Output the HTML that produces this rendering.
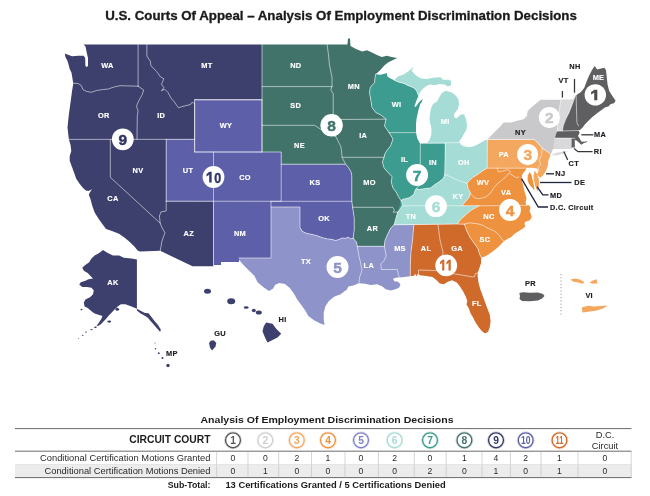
<!DOCTYPE html><html><head><meta charset="utf-8"><title>U.S. Courts Of Appeal</title><style>html,body{margin:0;padding:0;background:#fff}svg{display:block}text{font-family:"Liberation Sans",Arial,sans-serif}</style></head><body>
<svg width="650" height="496" viewBox="0 0 650 496">
<rect width="650" height="496" fill="#fff"/>
<text x="341" y="20" font-size="12.5" font-weight="700" fill="#1b1b1b" stroke="#1b1b1b" stroke-width="0.3" text-anchor="middle" textLength="471.6" lengthAdjust="spacingAndGlyphs">U.S. Courts Of Appeal – Analysis Of Employment Discrimination Decisions</text>
<g stroke-linejoin="round">
<path d="M87.5 44.4 L262.0 44.4 L262.0 99.8 L194.6 99.8 L194.6 139.2 L166.2 139.2 L166.2 201.2 L213.5 201.2 L213.5 266.2 L192.5 266.2 L160.2 250.8 L140.0 251.5 L137.6 250.6 L134.4 246.6 L129.5 241.8 L124.7 237.7 L119.0 233.7 L112.6 231.3 L106.1 228.9 L102.9 224.8 L98.9 219.2 L94.8 212.7 L92.4 206.3 L90.3 198.5 L88.8 195.0 L89.8 192.5 L92.0 189.3 L88.5 191.0 L85.8 190.6 L82.6 187.4 L79.4 183.4 L76.1 178.5 L74.5 173.7 L72.1 167.3 L69.7 160.8 L69.7 156.0 L71.3 151.1 L70.5 144.7 L68.9 139.5 L67.5 127.5 L68.8 115.0 L71.2 97.5 L72.1 90.8 L73.3 83.2 L72.7 79.9 L72.1 76.3 L71.5 72.7 L69.7 69.0 L68.5 64.2 L67.3 60.6 L65.4 56.9 L64.8 53.5 L67.3 54.5 L72.1 56.3 L78.1 55.7 L83.6 55.7 L85.2 58.1 L85.4 66.0 L86.6 67.0 L88.0 66.0 L88.0 58.0 L86.6 52.0 L85.5 46.5 L83.6 44.4Z" fill="#3d3f6c"/>
<path d="M194.6 99.8 L262.0 99.8 L262.0 152.0 L281.2 152.0 L281.2 164.2 L345.3 164.2 L348.5 167.7 L351.0 171.8 L351.8 175.8 L351.8 201.3 L352.6 207.3 L354.2 217.7 L354.2 230.0 L353.2 238.0 L351.0 239.0 L348.4 237.3 L345.2 238.3 L342.0 238.0 L339.0 239.5 L335.5 240.5 L331.5 239.3 L327.4 238.9 L323.5 238.0 L319.4 236.5 L314.5 235.0 L309.7 234.0 L305.0 232.8 L302.0 231.0 L300.0 227.5 L300.0 207.0 L271.0 207.0 L271.0 258.0 L239.0 258.0 L239.0 262.0 L221.0 262.0 L221.0 265.0 L213.5 265.0 L213.5 201.2 L166.2 201.2 L166.2 139.2 L194.6 139.2Z" fill="#5d5fa8"/>
<path d="M262.0 44.4 L347.4 44.4 L348.0 38.5 L350.0 38.5 L350.5 46.0 L356.0 48.9 L362.2 51.4 L367.0 50.2 L372.0 52.6 L377.0 55.0 L381.8 56.9 L386.8 55.7 L391.7 56.9 L397.2 57.9 L393.0 60.0 L388.0 62.5 L384.3 65.5 L380.6 69.8 L375.7 74.2 L375.0 77.8 L374.5 82.8 L372.0 85.2 L370.2 87.7 L369.5 92.6 L370.8 100.0 L372.0 107.5 L375.8 112.5 L380.8 115.0 L384.0 117.5 L386.0 119.2 L384.5 126.0 L389.0 132.5 L393.0 139.0 L390.5 146.0 L386.5 151.0 L384.8 154.0 L384.0 157.3 L382.4 162.1 L384.0 167.7 L388.0 172.6 L392.1 176.6 L391.3 182.3 L392.9 187.9 L396.1 191.9 L398.5 196.8 L401.0 200.5 L402.6 204.8 L400.2 208.9 L397.7 212.1 L396.1 217.7 L394.5 223.4 L394.0 224.8 L390.5 228.5 L387.4 234.7 L384.9 240.8 L384.3 246.3 L357.3 246.3 L356.5 242.0 L355.0 240.5 L353.2 238.0 L354.2 230.0 L354.2 217.7 L352.6 207.3 L351.8 201.3 L351.8 175.8 L351.0 171.8 L348.5 167.7 L345.3 164.2 L281.2 164.2 L281.2 152.0 L262.0 152.0Z" fill="#41736b"/>
<path d="M271.0 207.0 L300.0 207.0 L300.0 227.5 L302.0 231.0 L305.0 232.8 L309.7 234.0 L314.5 235.0 L319.4 236.5 L323.5 238.0 L327.4 238.9 L331.5 239.3 L335.5 240.5 L339.0 239.5 L342.0 238.0 L345.2 238.3 L348.4 237.3 L351.0 239.0 L353.2 238.0 L355.0 240.5 L356.5 242.0 L357.3 246.3 L384.3 246.3 L384.9 240.8 L387.4 234.7 L390.5 228.5 L394.0 224.8 L413.8 224.8 L412.6 239.6 L410.9 252.3 L410.3 264.6 L410.3 276.3 L404.2 276.9 L399.8 277.5 L396.8 277.5 L393.0 278.8 L394.3 281.2 L398.0 281.8 L400.5 284.3 L399.2 287.4 L395.5 289.2 L390.6 290.5 L385.7 289.2 L382.0 286.2 L377.1 284.3 L370.9 284.9 L364.8 283.7 L358.9 283.2 L353.2 285.6 L348.4 286.5 L346.8 289.7 L343.5 292.0 L340.3 294.5 L335.0 296.3 L331.8 298.4 L328.5 301.6 L325.3 306.5 L323.7 312.9 L323.7 319.4 L324.5 325.0 L320.5 323.4 L314.0 320.2 L308.4 316.1 L305.2 310.5 L301.1 304.8 L297.1 299.2 L293.9 293.5 L289.8 287.9 L285.0 283.9 L279.4 283.1 L275.3 284.7 L272.9 288.7 L268.9 291.1 L263.2 287.1 L257.6 282.3 L254.4 275.8 L248.7 270.2 L243.0 264.5 L239.0 259.7 L239.0 258.0 L271.0 258.0Z" fill="#8e93c9"/>
<path d="M375.7 74.2 L380.6 74.8 L385.5 73.5 L386.8 72.9 L387.4 76.6 L390.5 78.5 L394.2 80.3 L399.0 82.2 L404.0 83.4 L407.4 85.2 L413.5 87.7 L416.6 90.8 L418.5 95.7 L416.5 100.5 L414.3 106.5 L415.8 106.8 L419.0 102.2 L422.8 98.8 L421.5 102.5 L420.3 103.7 L418.5 109.8 L416.6 118.5 L416.0 124.6 L416.0 132.6 L417.2 138.2 L419.7 142.8 L420.3 143.3 L426.5 143.3 L445.3 143.3 L444.8 174.2 L443.5 178.2 L439.5 181.5 L434.7 184.7 L430.6 187.9 L424.2 188.7 L419.4 189.5 L416.1 188.7 L415.3 190.3 L413.7 194.4 L409.7 197.6 L406.5 198.4 L403.2 199.2 L401.0 200.5 L397.7 212.1 L400.2 208.9 L402.6 204.8 L401.0 200.5 L398.5 196.8 L396.1 191.9 L392.9 187.9 L391.3 182.3 L392.1 176.6 L388.0 172.6 L384.0 167.7 L382.4 162.1 L384.0 157.3 L384.8 154.0 L386.5 151.0 L390.5 146.0 L393.0 139.0 L389.0 132.5 L384.5 126.0 L386.0 119.2 L384.0 117.5 L380.8 115.0 L375.8 112.5 L372.0 107.5 L370.8 100.0 L369.5 92.6 L370.2 87.7 L372.0 85.2 L374.5 82.8 L375.0 77.8 L375.7 74.2Z" fill="#3b9c8f"/>
<path d="M394.2 80.3 L397.8 76.6 L404.0 74.2 L408.9 71.1 L413.5 66.8 L411.7 71.0 L416.0 75.4 L420.9 78.5 L427.0 79.0 L433.2 77.8 L440.6 77.2 L443.0 79.7 L449.2 79.7 L451.0 80.9 L451.0 85.2 L448.0 86.5 L444.3 84.6 L439.4 84.0 L434.5 85.2 L429.5 84.6 L425.8 86.5 L422.8 88.9 L420.3 92.0 L418.5 95.7 L416.6 90.8 L413.5 87.7 L407.4 85.2 L404.0 83.4 L399.0 82.2Z" fill="#a5dcd5"/>
<path d="M445.5 90.8 L451.7 92.6 L456.0 95.7 L458.5 99.4 L459.0 104.3 L457.8 109.2 L454.2 113.5 L454.2 117.2 L456.6 118.5 L460.3 114.8 L464.0 114.2 L465.8 118.5 L467.0 124.6 L466.5 129.5 L464.0 133.8 L461.5 138.2 L459.0 141.8 L460.5 144.3 L463.5 146.3 L469.5 147.3 L474.5 146.0 L479.5 143.6 L484.5 140.5 L487.4 139.4 L487.2 168.0 L482.4 171.0 L477.6 174.5 L472.7 177.5 L469.5 180.5 L467.0 183.2 L468.0 188.4 L470.5 192.8 L469.0 197.5 L466.0 201.0 L463.0 204.5 L462.0 205.8 L479.0 205.8 L476.0 207.5 L471.6 210.0 L467.6 213.2 L461.1 218.9 L457.1 224.0 L394.0 224.8 L394.5 223.4 L396.1 217.7 L397.7 212.1 L400.2 208.9 L402.6 204.8 L401.0 200.5 L403.2 199.2 L406.5 198.4 L409.7 197.6 L413.7 194.4 L415.3 190.3 L416.1 188.7 L419.4 189.5 L424.2 188.7 L430.6 187.9 L434.7 184.7 L439.5 181.5 L443.5 178.2 L444.8 174.2 L445.3 143.3 L426.5 143.3 L429.5 140.0 L431.4 134.5 L431.4 128.3 L430.2 123.4 L429.5 118.5 L430.2 112.3 L431.4 107.4 L433.2 103.7 L434.5 103.0 L436.9 101.8 L439.4 96.9 L441.8 93.2 L445.5 90.8Z" fill="#a5dcd5"/>
<path d="M413.8 224.8 L457.1 224.0 L464.4 224.2 L466.8 231.0 L470.0 237.4 L474.0 243.0 L478.0 248.7 L479.7 254.4 L481.3 257.6 L481.0 263.2 L479.4 268.1 L477.7 272.9 L477.7 276.9 L478.5 282.6 L480.2 289.0 L482.6 295.5 L485.0 301.9 L487.4 308.4 L489.8 314.8 L490.6 321.3 L489.8 326.9 L488.2 331.8 L485.0 333.4 L481.8 331.0 L478.5 326.9 L475.3 322.1 L472.9 317.3 L470.5 313.2 L468.9 308.4 L466.5 304.4 L467.3 301.1 L465.6 296.3 L463.2 291.5 L460.0 286.6 L456.8 282.6 L451.9 280.2 L447.9 281.8 L443.9 284.2 L439.8 283.4 L436.6 280.2 L432.6 276.9 L426.1 276.1 L419.7 275.3 L418.3 273.2 L416.5 276.3 L415.2 273.8 L414.0 275.7 L410.3 276.3 L410.3 264.6 L410.9 252.3 L412.6 239.6 L413.8 224.8Z" fill="#d06a2b"/>
<path d="M487.0 168.0 L527.0 168.0 L524.5 171.5 L522.0 175.0 L521.6 178.7 L523.2 186.0 L524.8 192.4 L526.5 198.0 L525.6 202.9 L526.5 205.3 L529.2 205.3 L530.5 208.0 L529.5 211.0 L531.3 215.0 L531.7 217.4 L529.5 220.5 L525.3 221.7 L524.5 223.7 L525.4 226.6 L522.5 228.8 L518.2 231.4 L514.5 233.8 L511.4 236.9 L507.7 238.8 L503.8 241.2 L502.0 243.2 L498.0 247.2 L494.0 250.5 L489.5 253.8 L485.0 256.5 L481.3 257.6 L479.7 254.4 L478.0 248.7 L474.0 243.0 L470.0 237.4 L466.8 231.0 L464.4 224.2 L457.1 224.0 L461.1 218.9 L467.6 213.2 L471.6 210.0 L476.0 207.5 L479.0 205.8 L462.0 205.8 L463.0 204.5 L466.0 201.0 L469.0 197.5 L470.5 192.8 L468.0 188.4 L467.0 183.2 L469.5 180.5 L472.7 177.5 L477.6 174.5 L482.4 171.0 L487.2 168.0Z" fill="#ef9240"/>
<path d="M487.3 139.4 L534.2 139.4 L538.2 143.4 L542.3 148.2 L547.1 151.5 L550.8 154.6 L548.5 160.0 L547.7 166.0 L546.0 170.8 L543.0 175.4 L540.0 177.7 L537.0 174.6 L538.5 171.0 L537.0 168.5 L533.8 168.0 L487.0 168.0Z" fill="#f3a75f"/>
<path d="M529.7 172.0 L531.5 175.0 L532.9 181.0 L534.0 186.0 L534.5 190.8 L532.0 187.5 L529.0 184.0 L527.5 180.0 L527.8 175.5Z" fill="#ef9240"/>
<path d="M534.5 170.5 L537.0 174.0 L538.8 179.0 L539.2 184.0 L537.7 191.4 L535.5 187.0 L534.0 181.0 L533.5 176.0Z" fill="#f3a75f"/>
<path d="M487.4 139.4 L491.5 135.3 L494.7 132.1 L500.3 126.5 L503.5 122.4 L510.8 122.4 L517.3 120.8 L523.7 119.2 L526.9 116.0 L527.7 111.1 L531.8 107.1 L536.6 103.1 L540.6 99.8 L573.0 99.8 L575.3 96.0 L572.1 104.8 L568.9 112.9 L565.6 119.4 L563.2 125.8 L562.4 131.0 L557.1 131.1 L554.7 138.0 L571.6 138.0 L571.6 148.5 L553.0 149.0 L550.8 154.6 L547.1 151.5 L542.3 148.2 L538.2 143.4 L534.2 139.4Z" fill="#c9c9cb"/>
<path d="M560.8 99.8 L573.0 99.8 L575.3 96.0 L572.1 104.8 L568.9 112.9 L565.6 119.4 L563.2 125.8 L562.4 131.0 L557.1 131.1 L558.5 115.0Z" fill="#d9d9db"/>
<path d="M554.7 138.0 L571.6 138.0 L571.6 148.5 L553.0 149.0Z" fill="#d9d9db"/>
<path d="M551.0 155.0 L556.0 152.8 L565.0 151.5 L568.0 151.0 L565.0 153.0 L557.0 155.4Z" fill="#dcdcde"/>
<path d="M575.3 96.0 L576.1 95.2 L581.0 91.9 L584.2 87.9 L586.6 81.5 L589.0 75.8 L592.3 69.4 L594.7 66.1 L597.1 69.4 L601.1 68.5 L604.4 67.7 L606.0 70.2 L606.8 77.4 L607.6 84.7 L609.2 91.1 L612.4 96.0 L615.6 100.8 L614.0 103.2 L610.8 104.0 L608.4 106.5 L605.2 107.3 L601.9 109.7 L598.7 112.1 L595.5 114.5 L591.5 117.7 L588.2 121.0 L585.0 124.2 L582.6 127.4 L580.5 129.5 L578.5 130.5 L579.7 132.7 L578.0 136.0 L579.7 138.4 L581.3 141.6 L584.0 141.8 L587.0 141.2 L587.3 142.0 L584.0 142.9 L581.3 144.8 L579.7 143.2 L576.5 140.5 L574.8 140.0 L574.8 147.5 L571.6 147.5 L571.6 138.0 L554.7 138.0 L557.1 131.1 L562.4 131.0 L563.2 125.8 L565.6 119.4 L568.9 112.9 L572.1 104.8 L575.3 96.0Z" fill="#5f5f62"/>
<path d="M103.0 250.0 L107.7 253.0 L113.0 255.4 L119.2 255.4 L123.8 257.7 L131.5 258.5 L136.9 259.4 L136.9 308.8 L131.5 306.5 L125.4 304.2 L120.8 304.2 L117.7 306.5 L114.6 309.6 L111.5 312.7 L108.5 315.8 L106.2 318.8 L103.0 322.0 L100.8 324.2 L98.5 325.8 L96.5 326.0 L99.0 322.5 L101.5 318.5 L102.5 316.0 L99.2 315.0 L94.6 313.5 L91.5 311.2 L87.7 308.0 L84.6 306.5 L83.8 302.7 L85.4 299.6 L90.0 297.3 L93.0 294.2 L93.8 290.4 L91.5 287.7 L87.0 287.0 L82.3 287.0 L79.2 284.6 L80.8 282.3 L85.4 280.8 L88.5 279.2 L93.0 278.5 L90.8 276.2 L87.7 273.0 L83.8 270.8 L82.3 267.7 L84.6 265.4 L89.2 262.3 L91.5 258.5 L94.6 255.4 L99.2 253.0Z" fill="#3d3f6c"/>
<path d="M136.9 308.8 L141.0 311.0 L145.0 313.0 L148.5 313.3 L151.5 317.0 L154.5 321.0 L158.0 325.0 L160.8 329.5 L160.2 332.0 L157.8 329.3 L154.3 325.3 L150.8 321.3 L147.8 317.8 L144.3 315.5 L140.3 313.2 L136.9 310.5Z" fill="#3d3f6c"/>
<path d="M266.2 322.5 L272.5 323.8 L276.2 328.8 L281.2 333.8 L277.5 337.5 L272.5 340.0 L267.5 342.5 L265.0 337.5 L262.5 331.2 L263.8 326.2Z" fill="#3d3f6c"/>
<path d="M209.0 343.0 L211.0 340.5 L214.0 340.5 L216.3 343.0 L215.5 346.5 L212.0 350.5 L210.0 347.5Z" fill="#3d3f6c"/>
<path d="M519.3 293.0 L523.0 292.3 L530.0 292.8 L538.0 292.6 L543.0 294.0 L544.5 296.0 L542.0 298.5 L538.0 300.5 L530.0 301.2 L522.0 301.0 L519.5 299.0 L520.0 296.0Z" fill="#5f5f62"/>
<path d="M570.5 279.5 L575.0 278.6 L580.0 279.5 L584.3 282.0 L583.0 283.8 L578.0 282.5 L573.0 281.5Z" fill="#f3a75f"/>
<path d="M589.3 282.5 L593.0 280.5 L596.5 279.3 L597.5 283.5 L593.0 283.8Z" fill="#f3a75f"/>
<path d="M581.8 307.5 L588.0 305.8 L594.0 306.5 L600.0 306.0 L607.5 305.5 L603.0 308.5 L597.0 310.5 L590.0 311.5 L582.5 312.5Z" fill="#f3a75f"/>
<ellipse cx="82.7" cy="335.3" rx="0.9" ry="0.5" fill="#3d3f6c"/>
<ellipse cx="78.5" cy="338.3" rx="0.7" ry="0.4" fill="#3d3f6c"/>
<ellipse cx="95.4" cy="327.3" rx="1.4" ry="0.8" fill="#3d3f6c"/>
<ellipse cx="91.5" cy="329.6" rx="1.2" ry="0.7" fill="#3d3f6c"/>
<ellipse cx="86.0" cy="332.0" rx="1.0" ry="0.6" fill="#3d3f6c"/>
<ellipse cx="109.2" cy="321.6" rx="2.0" ry="1.1" fill="#3d3f6c"/>
<ellipse cx="117.3" cy="309.3" rx="1.8" ry="1.5" fill="#3d3f6c"/>
<ellipse cx="81.5" cy="309.6" rx="1.0" ry="0.8" fill="#3d3f6c"/>
<ellipse cx="207.5" cy="291.2" rx="3.5" ry="2.5" fill="#3d3f6c"/>
<ellipse cx="231.2" cy="301.2" rx="4.0" ry="3.0" fill="#3d3f6c"/>
<ellipse cx="246.2" cy="307.5" rx="2.5" ry="1.2" fill="#3d3f6c"/>
<ellipse cx="253.8" cy="310.5" rx="2.0" ry="1.8" fill="#3d3f6c"/>
<ellipse cx="258.8" cy="312.5" rx="3.0" ry="2.0" fill="#3d3f6c"/>
<circle cx="155.0" cy="343.0" r="0.5" fill="#3d3f6c"/>
<circle cx="155.5" cy="348.8" r="0.7" fill="#3d3f6c"/>
<circle cx="158.8" cy="353.2" r="0.9" fill="#3d3f6c"/>
<circle cx="162.5" cy="358.0" r="1.0" fill="#3d3f6c"/>
<circle cx="168.0" cy="365.5" r="1.7" fill="#3d3f6c"/>
</g>
<g fill="none" stroke="#fff" stroke-opacity="0.55" stroke-width="1" stroke-linejoin="round" stroke-linecap="round">
<path d="M73.3 83.2 L78.1 83.5 L81.2 85.4 L83.0 89.6 L86.6 91.4 L91.5 92.3 L96.3 90.6 L102.3 89.6 L108.4 89.0 L113.2 87.2 L120.0 85.7 L138.1 86.2"/>
<path d="M138.1 86.2 L143.7 90.0 L142.1 94.8 L138.9 100.5 L136.5 106.1 L138.1 111.0 L137.3 116.0 L137.0 139.2"/>
<path d="M146.9 44.4 L146.9 56.1 L150.2 61.0 L151.0 65.8 L156.6 71.5 L160.6 77.1 L163.9 78.7 L161.5 84.4 L163.9 87.6 L161.5 90.8 L164.7 89.2 L167.9 92.4 L171.1 98.1 L174.4 102.1 L178.4 107.7 L184.0 106.1 L190.5 104.5 L192.1 102.1 L194.5 103.7"/>
<path d="M110.3 139.5 L110.3 177.3 L160.2 223.2"/>
<path d="M166.2 201.2 L166.2 211.0 L161.0 211.9 L159.4 216.0 L160.2 223.2 L161.8 227.3 L165.0 232.9 L163.4 236.9 L161.8 241.8 L161.0 246.6 L160.2 250.8"/>
<path d="M138.1 44.4 L138.1 86.2"/>
<path d="M68.9 139.4 L194.6 139.3"/>
<path d="M166.2 139.2 L166.2 201.2"/>
<path d="M166.2 201.2 L281.2 201.3"/>
<path d="M213.5 152.0 L213.5 266.2"/>
<path d="M262.0 44.4 L262.0 152.0"/>
<path d="M194.6 99.8 L262.0 99.8"/>
<path d="M194.6 103.8 L194.6 152.0 L281.2 152.0 L281.2 201.3"/>
<path d="M281.2 164.2 L345.3 164.2"/>
<path d="M271.0 201.3 L351.8 201.3"/>
<path d="M271.0 201.3 L271.0 258.0 L239.0 258.0"/>
<path d="M271.0 207.0 L300.0 207.0 L300.0 227.5 L302.0 231.0 L305.0 232.8 L309.7 234.0 L314.5 235.0 L319.4 236.5 L323.5 238.0 L327.4 238.9 L331.5 239.3 L335.5 240.5 L339.0 239.5 L342.0 238.0 L345.2 238.3 L348.4 237.3 L351.0 239.0 L353.2 238.0 L355.0 240.5 L356.5 242.0 L357.3 246.3"/>
<path d="M262.0 86.6 L332.0 86.6"/>
<path d="M262.0 125.3 L314.5 125.3 L319.8 128.7 L324.5 131.2 L329.5 133.8 L336.0 136.8 L338.4 141.6 L340.8 146.5 L341.5 151.0 L342.1 157.3 L345.3 163.7 L348.5 167.7 L351.0 171.8 L351.8 175.8 L351.8 201.3 L352.6 207.3 L354.2 217.7 L354.2 230.0 L353.2 238.0"/>
<path d="M327.0 44.4 L328.2 52.5 L329.5 65.0 L332.0 77.5 L332.0 86.2"/>
<path d="M332.0 86.2 L330.8 90.0 L333.2 93.8 L333.2 118.8 L334.5 125.0 L335.8 136.2"/>
<path d="M333.2 119.5 L386.0 119.2"/>
<path d="M342.1 157.3 L384.0 157.3"/>
<path d="M352.6 207.3 L392.9 207.3 L394.5 210.5 L392.9 212.1 L397.7 212.1"/>
<path d="M357.3 246.3 L384.3 246.3"/>
<path d="M357.3 246.3 L358.9 255.8 L360.5 262.3 L362.0 270.3 L359.7 276.8 L358.9 283.2"/>
<path d="M375.7 74.2 L375.0 77.8 L374.5 82.8 L372.0 85.2 L370.2 87.7 L369.5 92.6 L370.8 100.0 L372.0 107.5 L375.8 112.5 L380.8 115.0 L384.0 117.5 L386.0 119.2 L384.5 126.0 L389.0 132.5 L393.0 139.0 L390.5 146.0 L386.5 151.0 L384.8 154.0 L384.0 157.3 L382.4 162.1 L384.0 167.7 L388.0 172.6 L392.1 176.6 L391.3 182.3 L392.9 187.9 L396.1 191.9 L398.5 196.8 L401.0 200.5 L402.6 204.8 L400.2 208.9 L397.7 212.1 L396.1 217.7 L394.5 223.4 L394.0 224.8 L390.5 228.5 L387.4 234.7 L384.9 240.8 L384.3 246.3 L386.3 256.0 L383.8 260.9 L380.8 264.0 L381.4 269.5 L397.4 269.5 L398.6 275.7 L399.8 277.5"/>
<path d="M394.0 224.8 L457.1 224.0 L464.4 224.2"/>
<path d="M413.8 224.8 L412.6 239.6 L410.9 252.3 L410.3 264.6 L410.3 276.3"/>
<path d="M389.0 132.6 L416.0 132.6"/>
<path d="M394.2 80.3 L399.0 82.2 L404.0 83.4 L407.4 85.2 L413.5 87.7 L416.6 90.8 L418.5 95.7"/>
<path d="M420.3 143.3 L420.2 182.0 L419.4 185.5 L416.1 188.7"/>
<path d="M420.3 143.3 L459.0 142.6"/>
<path d="M445.3 143.3 L444.8 174.2"/>
<path d="M444.8 174.2 L443.5 178.2 L439.5 181.5 L434.7 184.7 L430.6 187.9 L424.2 188.7 L419.4 189.5 L416.1 188.7 L415.3 190.3 L413.7 194.4 L409.7 197.6 L406.5 198.4 L403.2 199.2 L401.0 200.5"/>
<path d="M444.8 174.2 L448.4 175.8 L454.8 179.0 L461.3 181.5 L467.0 183.2"/>
<path d="M467.0 183.2 L469.5 180.5 L472.7 177.5 L477.6 174.5 L482.4 171.0 L487.2 168.0"/>
<path d="M467.0 183.2 L468.0 188.4 L470.5 192.8 L469.0 197.5 L466.0 201.0 L463.0 204.5 L462.0 205.8"/>
<path d="M402.8 205.8 L479.0 205.8"/>
<path d="M479.0 205.8 L476.0 207.5 L471.6 210.0 L467.6 213.2 L461.1 218.9 L457.1 224.0"/>
<path d="M464.4 224.2 L466.8 231.0 L470.0 237.4 L474.0 243.0 L478.0 248.7 L479.7 254.4 L481.3 257.6"/>
<path d="M464.4 224.2 L469.2 222.9 L477.3 223.7 L483.7 225.6 L488.0 228.3 L494.0 230.8 L498.8 234.6 L501.8 239.0 L503.8 241.2"/>
<path d="M470.5 193.5 L474.4 197.9 L479.2 198.7 L485.6 197.1 L490.5 193.1 L493.7 188.2 L496.9 184.2 L501.8 180.2 L506.6 176.1 L509.0 172.9 L512.3 175.3 L516.3 177.7 L518.7 176.9"/>
<path d="M479.0 205.8 L526.5 205.4"/>
<path d="M487.3 139.4 L487.2 168.2 L534.0 168.2"/>
<path d="M497.0 168.0 L498.5 172.0 L503.0 171.0 L507.7 169.6 L510.8 172.0"/>
<path d="M438.0 224.8 L440.0 240.0 L443.0 252.0 L442.5 262.0 L443.0 270.8"/>
<path d="M418.5 273.0 L418.5 270.0 L443.0 270.8 L453.5 273.7 L463.2 275.3 L472.1 276.9 L474.5 276.9 L475.3 273.7 L477.7 272.9"/>
<path d="M487.4 139.4 L534.2 139.4"/>
<path d="M534.2 139.4 L538.2 143.4 L542.3 148.2 L547.1 151.5 L550.8 154.6"/>
<path d="M542.3 148.2 L541.5 155.4 L539.2 160.0 L540.8 164.6 L537.7 167.7 L539.2 170.8"/>
<path d="M560.8 99.8 L558.5 115.0 L557.1 131.1"/>
<path d="M575.3 96.0 L572.1 104.8 L568.9 112.9 L565.6 119.4 L563.2 125.8 L562.4 131.0"/>
<path d="M576.1 95.2 L576.9 122.6 L578.5 125.8"/>
<path d="M557.1 131.1 L578.5 130.5"/>
<path d="M554.7 138.0 L574.8 138.3"/>
</g>
<path d="M194.6 99.8H262V152H194.6Z" fill="none" stroke="#fff" stroke-opacity="0.45" stroke-width="1.1"/>
<line x1="561" y1="274" x2="561" y2="314.5" stroke="#8a8a8a" stroke-width="1" stroke-dasharray="1 2.3"/>
<g fill="none" stroke="#20233f" stroke-width="1.3">
<path d="M574.5 79V92.7" stroke="#38383c"/>
<path d="M562.4 91V97.6" stroke="#38383c"/>
<path d="M581.3 134.8H593.4" stroke="#38383c"/>
<path d="M574 148.6L578 151.7H592.6" stroke="#38383c"/>
<path d="M563.8 151.5L567.7 160" stroke="#38383c"/>
<path d="M546 173.8H554"/>
<path d="M540 182.5H571.5"/>
<path d="M537 186.7L542.8 194.8H548.5"/>
<path d="M521.5 178.6L538.3 207H548"/>
</g>
<g font-size="7.4" font-weight="700" text-anchor="middle" fill="#fff" stroke="#fff" stroke-width="0.15" letter-spacing="0.3">
<text x="107.5" y="68.0">WA</text>
<text x="207.0" y="67.5">MT</text>
<text x="103.8" y="117.5">OR</text>
<text x="161.2" y="117.5">ID</text>
<text x="226.0" y="127.5">WY</text>
<text x="295.8" y="67.5">ND</text>
<text x="295.8" y="108.0">SD</text>
<text x="299.5" y="147.5">NE</text>
<text x="353.8" y="88.8">MN</text>
<text x="363.2" y="137.5">IA</text>
<text x="138.0" y="172.5">NV</text>
<text x="188.0" y="172.5">UT</text>
<text x="113.0" y="201.2">CA</text>
<text x="188.8" y="236.2">AZ</text>
<text x="245.0" y="179.5">CO</text>
<text x="315.0" y="184.5">KS</text>
<text x="324.0" y="221.2">OK</text>
<text x="240.0" y="236.2">NM</text>
<text x="306.0" y="263.5">TX</text>
<text x="396.5" y="106.8">WI</text>
<text x="445.2" y="123.8">MI</text>
<text x="369.5" y="185.0">MO</text>
<text x="404.5" y="162.0">IL</text>
<text x="433.0" y="164.5">IN</text>
<text x="463.8" y="164.5">OH</text>
<text x="483.0" y="185.0">WV</text>
<text x="458.0" y="198.5">KY</text>
<text x="411.0" y="219.2">TN</text>
<text x="372.5" y="231.0">AR</text>
<text x="489.0" y="219.0">NC</text>
<text x="485.0" y="241.5">SC</text>
<text x="400.0" y="251.0">MS</text>
<text x="426.0" y="251.0">AL</text>
<text x="457.0" y="251.0">GA</text>
<text x="368.8" y="267.5">LA</text>
<text x="476.8" y="305.8">FL</text>
<text x="503.8" y="156.8">PA</text>
<text x="506.2" y="195.0">VA</text>
<text x="598.5" y="80.0">ME</text>
<text x="113.0" y="284.5">AK</text>
</g>
<g font-size="7.4" font-weight="700" text-anchor="middle" fill="#1e1e24" stroke="#1e1e24" stroke-width="0.15" letter-spacing="0.3">
<text x="520.5" y="134.5">NY</text>
<text x="575.0" y="69.2">NH</text>
<text x="563.5" y="83.1">VT</text>
<text x="600.0" y="137.2">MA</text>
<text x="597.8" y="154.3">RI</text>
<text x="573.8" y="166.0">CT</text>
<text x="560.3" y="176.3">NJ</text>
<text x="579.7" y="185.3">DE</text>
<text x="556.0" y="197.7">MD</text>
<text x="530.5" y="285.8">PR</text>
<text x="589.2" y="298.2">VI</text>
<text x="282.5" y="321.8">HI</text>
<text x="220.0" y="335.5">GU</text>
<text x="171.8" y="355.8">MP</text>
<text x="550" y="210" text-anchor="start" textLength="43.5" lengthAdjust="spacingAndGlyphs">D.C. Circuit</text>
</g>
<circle cx="595.3" cy="94.9" r="10.7" fill="#fff"/>
<clipPath id="cp1"><path d="M583.3 82.9H607.3V100.3H583.3Z"/></clipPath>
<text x="595.3" y="102.9" font-size="19" font-weight="700" text-anchor="middle" fill="#4c4c4f" stroke="#4c4c4f" stroke-width="0.45" clip-path="url(#cp1)">1</text>
<circle cx="549.4" cy="117.6" r="10.6" fill="#fff"/>
<text x="549.4" y="123.1" font-size="15.5" font-weight="700" text-anchor="middle" fill="#c9c9cb" stroke="#c9c9cb" stroke-width="0.45">2</text>
<circle cx="527.7" cy="154.6" r="10.6" fill="#fff"/>
<text x="527.7" y="160.1" font-size="15.5" font-weight="700" text-anchor="middle" fill="#f3a75f" stroke="#f3a75f" stroke-width="0.45">3</text>
<circle cx="510.0" cy="210.0" r="10.9" fill="#fff"/>
<text x="510.0" y="215.5" font-size="15.5" font-weight="700" text-anchor="middle" fill="#ef9240" stroke="#ef9240" stroke-width="0.45">4</text>
<circle cx="337.5" cy="267.0" r="11.0" fill="#fff"/>
<text x="337.5" y="272.5" font-size="15.5" font-weight="700" text-anchor="middle" fill="#8e93c9" stroke="#8e93c9" stroke-width="0.45">5</text>
<circle cx="436.0" cy="206.2" r="10.9" fill="#fff"/>
<text x="436.0" y="211.7" font-size="15.5" font-weight="700" text-anchor="middle" fill="#a5dcd5" stroke="#a5dcd5" stroke-width="0.45">6</text>
<circle cx="417.1" cy="175.0" r="11.0" fill="#fff"/>
<text x="417.1" y="180.5" font-size="15.5" font-weight="700" text-anchor="middle" fill="#3b9c8f" stroke="#3b9c8f" stroke-width="0.45">7</text>
<circle cx="331.6" cy="125.3" r="11.2" fill="#fff"/>
<text x="331.6" y="130.8" font-size="15.5" font-weight="700" text-anchor="middle" fill="#41736b" stroke="#41736b" stroke-width="0.45">8</text>
<circle cx="122.8" cy="139.3" r="10.9" fill="#fff"/>
<text x="122.8" y="144.8" font-size="15.5" font-weight="700" text-anchor="middle" fill="#2f3262" stroke="#2f3262" stroke-width="0.45">9</text>
<circle cx="213.5" cy="177.0" r="10.9" fill="#fff"/>
<clipPath id="cp10"><path d="M201.5 165.0H225.5V189.0H214.5V182.5H201.5Z"/></clipPath>
<text x="213.5" y="182.5" font-size="15.5" font-weight="700" text-anchor="middle" fill="#34366e" stroke="#34366e" stroke-width="0.45" clip-path="url(#cp10)" textLength="15.5" lengthAdjust="spacingAndGlyphs"><tspan font-size="19" dy="2.60">1</tspan><tspan dy="-2.60">0</tspan></text>
<circle cx="446.2" cy="265.4" r="10.9" fill="#fff"/>
<clipPath id="cp11"><path d="M434.2 253.4H458.2V270.6H434.2Z"/></clipPath>
<text x="446.2" y="273.2" font-size="18.5" font-weight="700" text-anchor="middle" fill="#d06a2b" stroke="#d06a2b" stroke-width="0.45" clip-path="url(#cp11)" textLength="13.8" lengthAdjust="spacingAndGlyphs">11</text>
<text x="327" y="422.6" font-size="9.6" font-weight="700" fill="#1b1b1b" text-anchor="middle" textLength="253" lengthAdjust="spacingAndGlyphs">Analysis Of Employment Discrimination Decisions</text>
<rect x="15" y="464.5" width="616.5" height="13" fill="#ececec"/>
<g stroke="#5a5a5a" stroke-width="0.9"><line x1="15" y1="428.6" x2="631.5" y2="428.6"/><line x1="15" y1="451.2" x2="631.5" y2="451.2"/><line x1="15" y1="477.6" x2="631.5" y2="477.6"/></g>
<g stroke="#c4c4c4" stroke-width="0.7">
<line x1="216.6" y1="451.6" x2="216.6" y2="477.2"/>
<line x1="248.0" y1="451.6" x2="248.0" y2="477.2"/>
<line x1="278.7" y1="451.6" x2="278.7" y2="477.2"/>
<line x1="311.5" y1="451.6" x2="311.5" y2="477.2"/>
<line x1="345.0" y1="451.6" x2="345.0" y2="477.2"/>
<line x1="378.4" y1="451.6" x2="378.4" y2="477.2"/>
<line x1="414.3" y1="451.6" x2="414.3" y2="477.2"/>
<line x1="446.2" y1="451.6" x2="446.2" y2="477.2"/>
<line x1="482.0" y1="451.6" x2="482.0" y2="477.2"/>
<line x1="510.4" y1="451.6" x2="510.4" y2="477.2"/>
<line x1="541.0" y1="451.6" x2="541.0" y2="477.2"/>
<line x1="578.0" y1="451.6" x2="578.0" y2="477.2"/>
<line x1="631.2" y1="451.6" x2="631.2" y2="477.2"/>
<line x1="15" y1="464.5" x2="631.5" y2="464.5" stroke="#dedede"/>
</g>
<text x="210.5" y="443" font-size="10.3" font-weight="700" fill="#1b1b1b" text-anchor="end">CIRCUIT COURT</text>
<g font-size="8.6" fill="#2a2a2a">
<text x="210.5" y="461" text-anchor="end" textLength="170.5" lengthAdjust="spacingAndGlyphs">Conditional Certification Motions Granted</text>
<text x="210.5" y="474.3" text-anchor="end" textLength="166" lengthAdjust="spacingAndGlyphs">Conditional Certification Motions Denied</text>
<text x="233.0" y="461" text-anchor="middle">0</text>
<text x="233.0" y="474.3" text-anchor="middle">0</text>
<text x="265.3" y="461" text-anchor="middle">0</text>
<text x="265.3" y="474.3" text-anchor="middle">1</text>
<text x="296.8" y="461" text-anchor="middle">2</text>
<text x="296.8" y="474.3" text-anchor="middle">0</text>
<text x="328.0" y="461" text-anchor="middle">1</text>
<text x="328.0" y="474.3" text-anchor="middle">0</text>
<text x="361.0" y="461" text-anchor="middle">0</text>
<text x="361.0" y="474.3" text-anchor="middle">0</text>
<text x="394.6" y="461" text-anchor="middle">2</text>
<text x="394.6" y="474.3" text-anchor="middle">0</text>
<text x="430.0" y="461" text-anchor="middle">0</text>
<text x="430.0" y="474.3" text-anchor="middle">2</text>
<text x="464.4" y="461" text-anchor="middle">1</text>
<text x="464.4" y="474.3" text-anchor="middle">0</text>
<text x="496.0" y="461" text-anchor="middle">4</text>
<text x="496.0" y="474.3" text-anchor="middle">1</text>
<text x="525.7" y="461" text-anchor="middle">2</text>
<text x="525.7" y="474.3" text-anchor="middle">0</text>
<text x="559.5" y="461" text-anchor="middle">1</text>
<text x="559.5" y="474.3" text-anchor="middle">1</text>
<text x="605.0" y="461" text-anchor="middle">0</text>
<text x="605.0" y="474.3" text-anchor="middle">0</text>
<text x="605" y="437.5" text-anchor="middle" font-size="9.3">D.C.</text><text x="605" y="448.6" text-anchor="middle" font-size="9.3">Circuit</text>
</g>
<g font-size="8.8" font-weight="700" fill="#1b1b1b"><text x="210.5" y="487.6" text-anchor="end">Sub-Total:</text><text x="225.4" y="487.6" textLength="220.4" lengthAdjust="spacingAndGlyphs">13 Certifications Granted / 5 Certifications Denied</text></g>
<circle cx="233.0" cy="440.3" r="8.5" fill="#fff" stroke="#58585a" stroke-width="0.4" stroke-opacity="0.6"/><circle cx="233.0" cy="440.3" r="7.4" fill="none" stroke="#58585a" stroke-width="1.4"/>
<text x="233.0" y="444" font-size="10.3" font-weight="700" text-anchor="middle" fill="#58585a">1</text>
<circle cx="265.3" cy="440.3" r="8.5" fill="#fff" stroke="#cfcfd1" stroke-width="0.4" stroke-opacity="0.6"/><circle cx="265.3" cy="440.3" r="7.4" fill="none" stroke="#cfcfd1" stroke-width="1.4"/>
<text x="265.3" y="444" font-size="10.3" font-weight="700" text-anchor="middle" fill="#cfcfd1">2</text>
<circle cx="296.8" cy="440.3" r="8.5" fill="#fff" stroke="#f3a75f" stroke-width="0.4" stroke-opacity="0.6"/><circle cx="296.8" cy="440.3" r="7.4" fill="none" stroke="#f3a75f" stroke-width="1.4"/>
<text x="296.8" y="444" font-size="10.3" font-weight="700" text-anchor="middle" fill="#f3a75f">3</text>
<circle cx="328.0" cy="440.3" r="8.5" fill="#fff" stroke="#ef9240" stroke-width="0.4" stroke-opacity="0.6"/><circle cx="328.0" cy="440.3" r="7.4" fill="none" stroke="#ef9240" stroke-width="1.4"/>
<text x="328.0" y="444" font-size="10.3" font-weight="700" text-anchor="middle" fill="#ef9240">4</text>
<circle cx="361.0" cy="440.3" r="8.5" fill="#fff" stroke="#7d82c6" stroke-width="0.4" stroke-opacity="0.6"/><circle cx="361.0" cy="440.3" r="7.4" fill="none" stroke="#7d82c6" stroke-width="1.4"/>
<text x="361.0" y="444" font-size="10.3" font-weight="700" text-anchor="middle" fill="#7d82c6">5</text>
<circle cx="394.6" cy="440.3" r="8.5" fill="#fff" stroke="#a5dcd5" stroke-width="0.4" stroke-opacity="0.6"/><circle cx="394.6" cy="440.3" r="7.4" fill="none" stroke="#a5dcd5" stroke-width="1.4"/>
<text x="394.6" y="444" font-size="10.3" font-weight="700" text-anchor="middle" fill="#a5dcd5">6</text>
<circle cx="430.0" cy="440.3" r="8.5" fill="#fff" stroke="#3b9c8f" stroke-width="0.4" stroke-opacity="0.6"/><circle cx="430.0" cy="440.3" r="7.4" fill="none" stroke="#3b9c8f" stroke-width="1.4"/>
<text x="430.0" y="444" font-size="10.3" font-weight="700" text-anchor="middle" fill="#3b9c8f">7</text>
<circle cx="464.4" cy="440.3" r="8.5" fill="#fff" stroke="#41736b" stroke-width="0.4" stroke-opacity="0.6"/><circle cx="464.4" cy="440.3" r="7.4" fill="none" stroke="#41736b" stroke-width="1.4"/>
<text x="464.4" y="444" font-size="10.3" font-weight="700" text-anchor="middle" fill="#41736b">8</text>
<circle cx="496.0" cy="440.3" r="8.5" fill="#fff" stroke="#34376a" stroke-width="0.4" stroke-opacity="0.6"/><circle cx="496.0" cy="440.3" r="7.4" fill="none" stroke="#34376a" stroke-width="1.4"/>
<text x="496.0" y="444" font-size="10.3" font-weight="700" text-anchor="middle" fill="#34376a">9</text>
<circle cx="525.7" cy="440.3" r="8.5" fill="#fff" stroke="#5d5fa8" stroke-width="0.4" stroke-opacity="0.6"/><circle cx="525.7" cy="440.3" r="7.4" fill="none" stroke="#5d5fa8" stroke-width="1.4"/>
<text x="525.7" y="444" font-size="10.3" font-weight="700" text-anchor="middle" fill="#5d5fa8" textLength="9.5" lengthAdjust="spacingAndGlyphs">10</text>
<circle cx="559.5" cy="440.3" r="8.5" fill="#fff" stroke="#d06a2b" stroke-width="0.4" stroke-opacity="0.6"/><circle cx="559.5" cy="440.3" r="7.4" fill="none" stroke="#d06a2b" stroke-width="1.4"/>
<text x="559.5" y="444" font-size="10.3" font-weight="700" text-anchor="middle" fill="#d06a2b" textLength="8" lengthAdjust="spacingAndGlyphs">11</text>
</svg></body></html>
